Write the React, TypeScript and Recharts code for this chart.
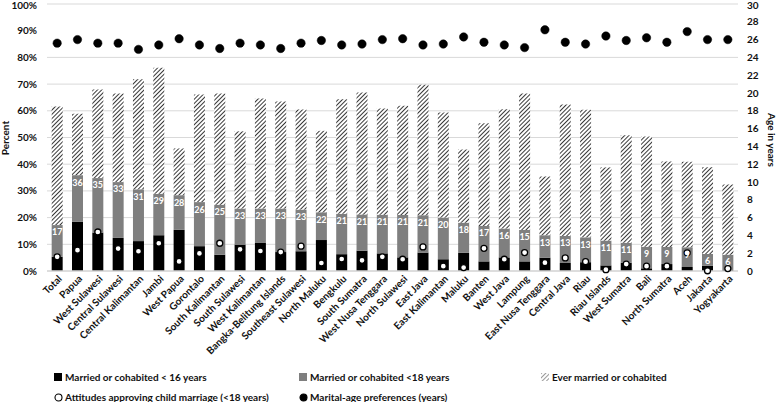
import {
  ComposedChart, Bar, Line, XAxis, YAxis, CartesianGrid, LabelList, Label,
} from "recharts";

const PROVINCES = [
  "Total", "Papua", "West Sulawesi", "Central Sulawesi", "Central Kalimantan", "Jambi",
  "West Papua", "Gorontalo", "South Kalimantan", "South Sulawesi", "West Kalimantan",
  "Bangka-Belitung Islands", "Southeast Sulawesi", "North Maluku", "Bengkulu", "South Sumatra",
  "West Nusa Tenggara", "North Sulawesi", "East Java", "East Kalimantan", "Maluku", "Banten",
  "West Java", "Lampung", "East Nusa Tenggara", "Central Java", "Riau", "Riau Islands",
  "West Sumatra", "Bali", "North Sumatra", "Aceh", "Jakarta", "Yogyakarta",
];

// percent of women
const EVER_MARRIED = [
  61.6, 58.9, 68.0, 66.5, 71.8, 76.1, 45.9, 66.1, 66.5, 52.3, 64.6,
  63.5, 60.5, 52.5, 64.3, 66.9, 60.9, 61.9, 69.8, 59.4, 45.5, 55.3,
  60.6, 66.5, 35.4, 62.4, 60.4, 38.8, 50.8, 50.4, 41.0, 40.9, 38.9, 32.4,
];
const UNDER_18 = [
  17.2, 35.9, 34.8, 33.3, 30.6, 28.9, 28.4, 25.8, 24.8, 23.4, 23.4,
  23.4, 23.0, 22.0, 21.4, 21.2, 21.1, 21.0, 20.9, 20.0, 18.1, 16.9,
  15.9, 15.4, 13.4, 13.1, 12.6, 11.4, 10.6, 9.1, 9.0, 8.9, 6.4, 6.1,
];
const UNDER_16 = [
  5.3, 18.4, 14.4, 12.4, 11.2, 13.4, 15.4, 9.3, 6.1, 9.9, 10.5,
  7.1, 7.4, 11.6, 6.3, 7.6, 6.6, 5.1, 6.9, 4.4, 6.8, 3.6,
  5.1, 3.6, 5.0, 3.0, 3.3, 2.1, 3.1, 1.0, 2.6, 1.5, 2.0, 0.4,
];
const ATTITUDES = [
  5.3, 7.8, 14.6, 8.4, 7.4, 10.4, 3.6, 6.6, 10.4, 8.1, 7.5,
  7.1, 9.3, 3.0, 4.5, 4.0, 5.3, 4.4, 9.0, 1.8, 1.3, 8.5,
  4.4, 6.9, 3.1, 4.9, 3.5, 0.5, 2.6, 1.8, 1.8, 6.8, 0.1, 0.9,
];
// years
const AGE_PREF = [
  25.6, 26.0, 25.6, 25.6, 24.9, 25.4, 26.1, 25.4, 25.0, 25.6, 25.4,
  25.0, 25.6, 25.9, 25.4, 25.5, 26.0, 26.1, 25.4, 25.5, 26.3, 25.7,
  25.4, 25.1, 27.1, 25.7, 25.5, 26.4, 25.9, 26.2, 25.7, 26.9, 26.0, 26.0,
];

const PCT_TICKS = [0, 10, 20, 30, 40, 50, 60, 70, 80, 90, 100];
const AGE_TICKS = [0, 2, 4, 6, 8, 10, 12, 14, 16, 18, 20, 22, 24, 26, 28, 30];

const FONT = "Lato, 'Open Sans', sans-serif";
const GRAY = "#7f7f7f";

const data = PROVINCES.map((name, i) => ({
  name,
  u16: UNDER_16[i],
  u18: UNDER_18[i],
  u18Part: UNDER_18[i] - UNDER_16[i],
  everPart: EVER_MARRIED[i] - UNDER_18[i],
  attitude: ATTITUDES[i],
  age: AGE_PREF[i],
}));

function CategoryTick({ x, y, payload }: { x?: number; y?: number; payload?: { value: string } }) {
  return (
    <g transform={`translate(${(x ?? 0) + 3},${(y ?? 0) - 2})`}>
      <text
        x={0} y={0} dy="0.35em" textAnchor="end" transform="rotate(-45)"
        fontSize={10} fontWeight={700} fill="#111" fontFamily={FONT}
      >
        {payload?.value}
      </text>
    </g>
  );
}

function Swatch({ kind }: { kind: string }) {
  if (kind === "hatch") {
    return (
      <svg width={8} height={8} style={{ marginRight: 3 }}>
        <defs>
          <pattern id="hatchLegend" width={3} height={3} patternUnits="userSpaceOnUse" patternTransform="rotate(45)">
            <rect width={3} height={3} fill="#fff" />
            <line x1={0} y1={0} x2={0} y2={3} stroke="#555" strokeWidth={1.2} />
          </pattern>
        </defs>
        <rect width={8} height={8} fill="url(#hatchLegend)" />
      </svg>
    );
  }
  if (kind === "open" || kind === "dot") {
    return (
      <svg width={9} height={9} style={{ marginRight: 2 }}>
        <circle cx={4.5} cy={4.5} r={3.5} fill={kind === "open" ? "#fff" : "#000"} stroke="#000" strokeWidth={1.1} />
      </svg>
    );
  }
  return (
    <svg width={8} height={8} style={{ marginRight: 3 }}>
      <rect width={8} height={8} fill={kind === "black" ? "#000" : GRAY} />
    </svg>
  );
}

const LEGEND = [
  { kind: "black", text: "Married or cohabited < 16 years", left: 54, top: 371 },
  { kind: "gray", text: "Married or cohabited <18 years", left: 299, top: 371 },
  { kind: "hatch", text: "Ever married or cohabited", left: 541, top: 371 },
  { kind: "open", text: "Attitudes approving child marriage (<18 years)", left: 54, top: 391 },
  { kind: "dot", text: "Marital-age preferences (years)", left: 299, top: 391 },
];

export default function App() {
  return (
    <div style={{ position: "absolute", left: 0, top: 0, width: 778, height: 402, background: "#fff", fontFamily: FONT }}>
      <ComposedChart
        width={778} height={402} data={data}
        margin={{ top: 4, right: 0, left: 0, bottom: 0 }}
        barCategoryGap="23%"
      >
        <defs>
          <pattern id="hatch" width={3} height={3} patternUnits="userSpaceOnUse" patternTransform="rotate(45)">
            <rect width={3} height={3} fill="#fff" />
            <line x1={0} y1={0} x2={0} y2={3} stroke="#222" strokeWidth={1.8} />
          </pattern>
        </defs>
        <CartesianGrid yAxisId="left" vertical={false} stroke="#d9d9d9" />
        <XAxis
          dataKey="name" interval={0} height={131}
          tick={<CategoryTick />} tickLine={false}
          axisLine={{ stroke: "#d9d9d9", strokeWidth: 1.5 }}
        />
        <YAxis
          yAxisId="left" width={47} domain={[0, 100]} ticks={PCT_TICKS}
          tickFormatter={(v: number) => `${v}%`} tickLine={false} axisLine={false}
          tickMargin={4}
          tick={{ fontSize: 10, fontWeight: 700, fill: "#111", fontFamily: FONT }}
        >
          <Label
            content={() => (
              <text x={6} y={138} transform="rotate(-90 6 138)" textAnchor="middle" dominantBaseline="middle"
                fontSize={10} fontWeight={700} fill="#111" fontFamily={FONT}>Percent</text>
            )}
          />
        </YAxis>
        <YAxis
          yAxisId="right" orientation="right" width={40} domain={[0, 30]} ticks={AGE_TICKS}
          tickLine={false} axisLine={false} tickMargin={3}
          tick={{ fontSize: 10, fontWeight: 700, fill: "#111", fontFamily: FONT, textAnchor: "start" }}
        >
          <Label
            content={() => (
              <text x={771} y={140} transform="rotate(90 771 140)" textAnchor="middle" dominantBaseline="middle"
                fontSize={10} fontWeight={700} fill="#111" fontFamily={FONT}>Age in years</text>
            )}
          />
        </YAxis>
        <Bar yAxisId="left" dataKey="u16" stackId="a" fill="#000" isAnimationActive={false} />
        <Bar yAxisId="left" dataKey="u18Part" stackId="a" fill={GRAY} isAnimationActive={false}>
          <LabelList
            dataKey="u18" position="insideTop" offset={4}
            formatter={(v: number) => Math.round(v)}
            fill="#fff" fontSize={9} fontWeight={700} fontFamily={FONT}
          />
        </Bar>
        <Bar yAxisId="left" dataKey="everPart" stackId="a" fill="url(#hatch)" isAnimationActive={false} />
        <Line
          yAxisId="left" dataKey="attitude" stroke="none" isAnimationActive={false}
          dot={{ r: 3, fill: "#fff", stroke: "#000", strokeWidth: 1.3 }} activeDot={false}
        />
        <Line
          yAxisId="right" dataKey="age" stroke="none" isAnimationActive={false}
          dot={{ r: 4.2, fill: "#000", stroke: "#000", strokeWidth: 0.5 }} activeDot={false}
        />
      </ComposedChart>
      {LEGEND.map((item) => (
        <div
          key={item.text}
          style={{
            position: "absolute", left: item.left, top: item.top,
            display: "flex", alignItems: "center",
            fontSize: 10, fontWeight: 700, color: "#111", whiteSpace: "nowrap",
          }}
        >
          <Swatch kind={item.kind} />
          {item.text}
        </div>
      ))}
    </div>
  );
}
